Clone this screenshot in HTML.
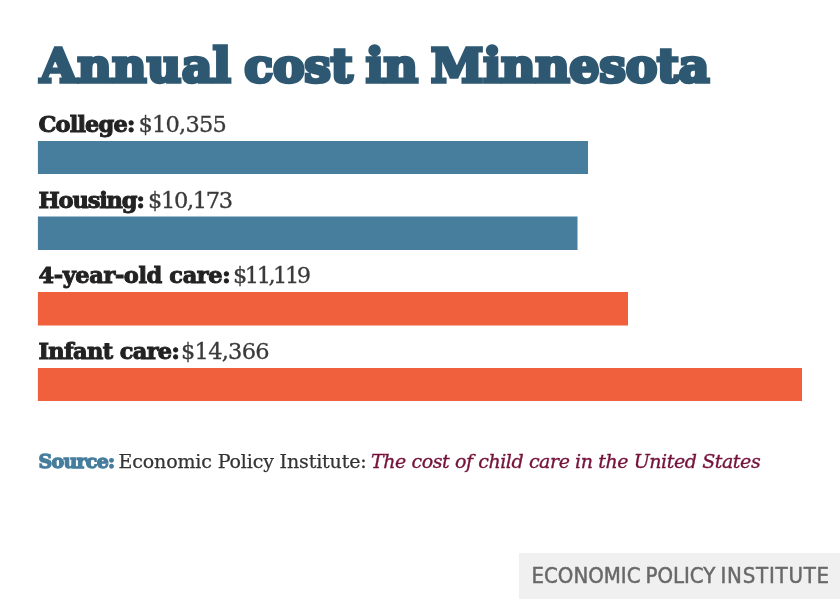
<!DOCTYPE html>
<html lang="en">
<head>
<meta charset="utf-8">
<title>Annual cost in Minnesota</title>
<style>
  html,body{margin:0;padding:0;background:#fff;}
  body{width:840px;height:601px;position:relative;overflow:hidden;font-family:"DejaVu Serif Condensed","DejaVu Serif","Liberation Serif",serif;}
  .abs{position:absolute;white-space:nowrap;line-height:1;}
  h1{margin:0;font-family:"DejaVu Serif","Liberation Serif",serif;font-weight:bold;font-size:47.5px;color:#2e5872;-webkit-text-stroke:3.6px #2e5872;letter-spacing:-0.3px;word-spacing:-3px;left:40px;top:43.1px;transform:scaleY(0.98);transform-origin:0 0;}
  .lbl{font-size:22.5px;color:#3a3a3a;left:38.5px;}
  .lbl b{font-family:"DejaVu Serif","Liberation Serif",serif;color:#222;font-weight:bold;-webkit-text-stroke:1.0px #222;}
  .lbl span{font-family:"DejaVu Serif","Liberation Serif",serif;-webkit-text-stroke:0.3px #3a3a3a;}
  .bars{position:absolute;left:0;top:0;}
  .src{font-size:19px;top:451.7px;color:#333;}
  .s1{left:38.6px;margin-top:0.7px;font-family:"DejaVu Serif","Liberation Serif",serif;font-weight:bold;color:#467d9d;-webkit-text-stroke:1.3px #467d9d;letter-spacing:-0.75px;}
  .s2{left:118.6px;-webkit-text-stroke:0.25px #333;font-family:"DejaVu Serif","Liberation Serif",serif;letter-spacing:-0.15px;}
  .s3{left:371px;-webkit-text-stroke:0.35px #74123a;font-family:"DejaVu Serif","Liberation Serif",serif;font-style:italic;color:#74123a;letter-spacing:-0.42px;}
  .badge{position:absolute;left:519px;top:553px;width:321px;height:45.5px;background:#f0f0f0;}
  .badge span{position:absolute;left:12.5px;top:12.3px;font-family:"DejaVu Sans Condensed","Liberation Sans",sans-serif;font-size:22px;line-height:1;color:#686868;-webkit-text-stroke:0.45px #686868;white-space:nowrap;word-spacing:-1.3px;}
  .badge span em{font-style:normal;letter-spacing:0.8px;}
</style>
</head>
<body>
<svg class="bars" width="840" height="601" viewBox="0 0 840 601" aria-hidden="true">
  <rect x="37.9" y="141" width="550.1" height="33" fill="#487e9d"/>
  <rect x="37.9" y="216.5" width="539.6" height="33.5" fill="#487e9d"/>
  <rect x="37.9" y="292" width="590.1" height="33.5" fill="#f0603c"/>
  <rect x="37.9" y="368" width="764.1" height="33" fill="#f0603c"/>
</svg>
<h1 class="abs"><span style="letter-spacing:0.3px">Annual</span> cost in Minnesota</h1>

<div class="abs lbl" style="top:113.1px"><b style="letter-spacing:-0.85px">College:</b> <span style="position:absolute;left:100px;top:0;letter-spacing:-0.8px">$10,355</span></div>

<div class="abs lbl" style="top:188.6px"><b style="letter-spacing:-1.15px">Housing:</b> <span style="position:absolute;left:109.5px;top:0;letter-spacing:-1.35px">$10,173</span></div>

<div class="abs lbl" style="top:264.1px"><b style="letter-spacing:-0.4px">4-year-old care:</b> <span style="position:absolute;left:194.5px;top:0;letter-spacing:-2.5px">$11,119</span></div>

<div class="abs lbl" style="top:339.7px"><b style="letter-spacing:-0.65px">Infant care:</b> <span style="position:absolute;left:142.5px;top:0;letter-spacing:-0.75px">$14,366</span></div>

<div class="abs src s1">Source:</div>
<div class="abs src s2">Economic Policy Institute:</div>
<div class="abs src s3">The cost of child care in the United States</div>

<div class="badge"><span>ECONOMIC POLICY <em>INSTITUTE</em></span></div>
</body>
</html>
